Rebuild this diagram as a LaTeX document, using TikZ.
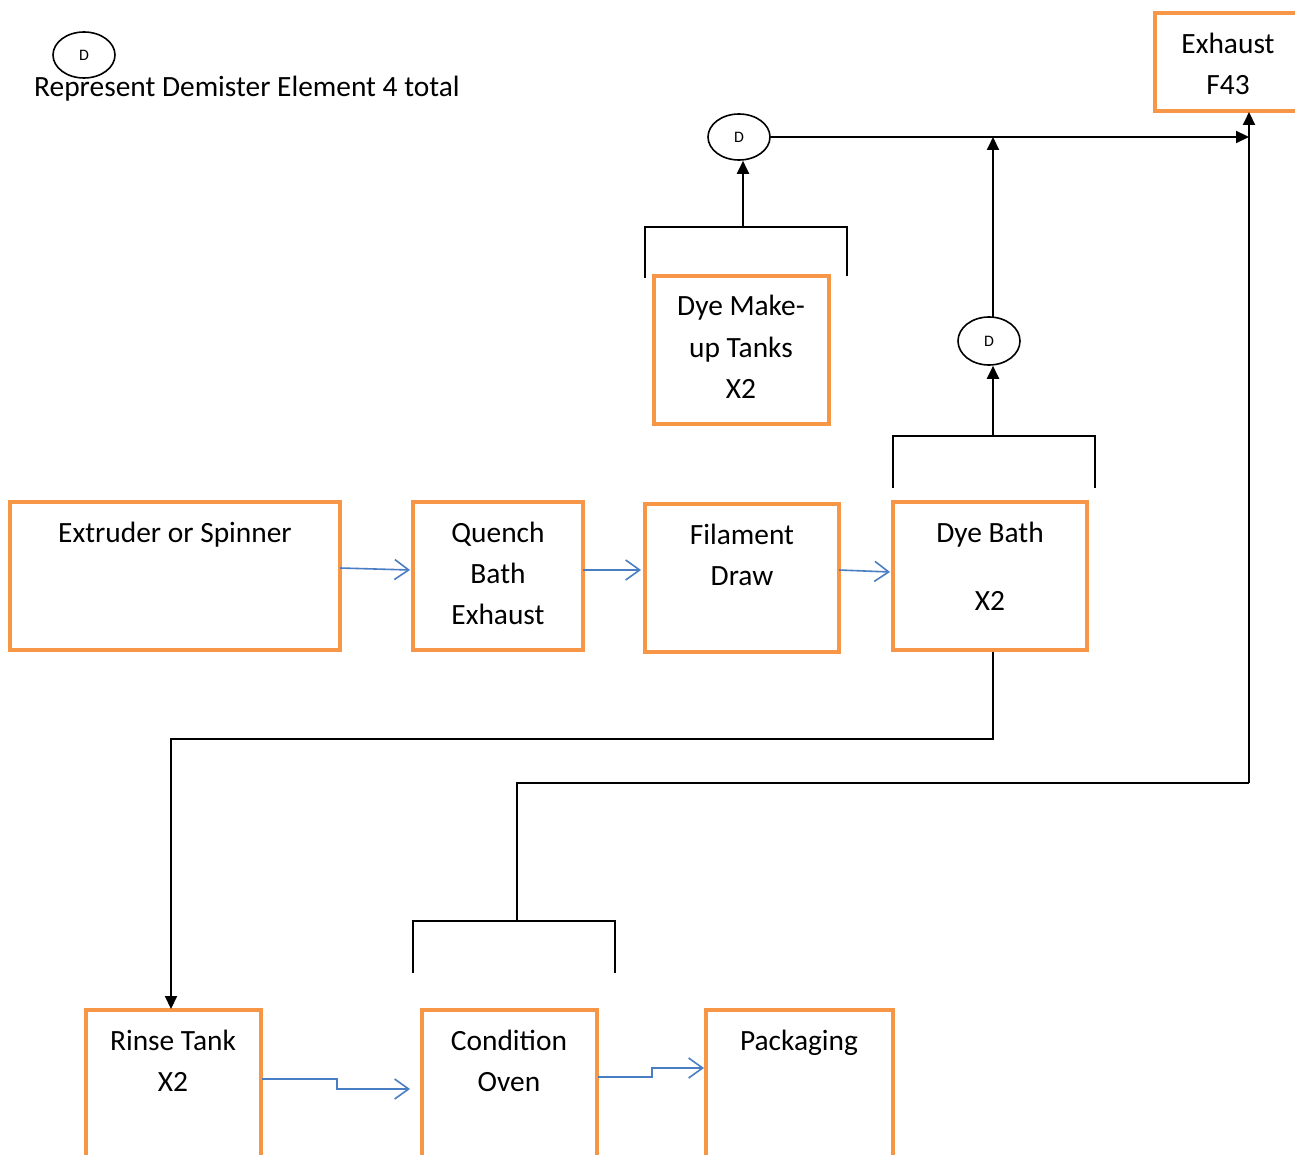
\documentclass[tikz,border=0pt]{standalone}
\usepackage{fontspec}
\setmainfont{Carlito}
\usetikzlibrary{shapes.geometric,arrows.meta}
\begin{document}
\begin{tikzpicture}[x=1pt,y=-1pt,
  box/.style={draw=boxorange,line width=4.5pt,inner sep=0pt},
  txt/.style={font=\fontsize{29.4}{41}\selectfont,anchor=base,inner sep=0pt},
  dem/.style={draw,ellipse,line width=1.6pt,minimum width=62pt,minimum height=46pt,inner sep=0pt,font=\fontsize{16}{18}\selectfont},
  blk/.style={line width=2pt},
  blkarr/.style={blk,-{Triangle[length=13pt,width=12pt]}},
  bluearr/.style={draw=flowblue,line width=1.6pt,-{Straight Barb[length=14pt,width=20pt,line width=1.6pt]}},
]
\definecolor{boxorange}{HTML}{F79646}
\definecolor{flowblue}{HTML}{4A7EC4}
\useasboundingbox (0,0) rectangle (1295,1155);
\fill[white] (0,0) rectangle (1295,1155);

% legend
\node[dem] (legD) at (84,55) {D};
\node[txt,anchor=base west] (legT) at (34,97) {Represent Demister Element 4 total};

% boxes
\node[box,minimum width=145pt,minimum height=98pt] (exh) at (1227.5,62) {};
\node[txt] (exh1) at (1228,54) {Exhaust};
\node[txt] (exh2) at (1228,95) {F43};

\node[box,minimum width=175pt,minimum height=148pt] (dmk) at (741.5,350) {};
\node[txt] (dmk1) at (741,316) {Dye Make-};
\node[txt] (dmk2) at (741,357) {up Tanks};
\node[txt] (dmk3) at (741,398) {X2};

\node[box,minimum width=330pt,minimum height=148pt] (ext) at (175,576) {};
\node[txt] (ext1) at (175,542) {Extruder or Spinner};

\node[box,minimum width=170pt,minimum height=148pt] (qb) at (498,576) {};
\node[txt] (qb1) at (498,542) {Quench};
\node[txt] (qb2) at (498,583) {Bath};
\node[txt] (qb3) at (498,624) {Exhaust};

\node[box,minimum width=194pt,minimum height=148pt] (fd) at (742,578) {};
\node[txt] (fd1) at (742,544) {Filament};
\node[txt] (fd2) at (742,585) {Draw};

\node[box,minimum width=194pt,minimum height=148pt] (db) at (990,576) {};
\node[txt] (db1) at (990,542) {Dye Bath};
\node[txt] (db2) at (990,610) {X2};

\node[box,minimum width=175pt,minimum height=170pt] (rt) at (173.5,1095) {};
\node[txt] (rt1) at (173,1050) {Rinse Tank};
\node[txt] (rt2) at (173,1091) {X2};

\node[box,minimum width=175pt,minimum height=170pt] (co) at (509.5,1095) {};
\node[txt] (co1) at (509,1050) {Condition};
\node[txt] (co2) at (509,1091) {Oven};

\node[box,minimum width=187pt,minimum height=170pt] (pk) at (799.5,1095) {};
\node[txt] (pk1) at (799,1050) {Packaging};

% demisters
\node[dem] (d1) at (739,137) {D};
\node[dem,minimum height=48pt] (d2) at (989,341) {D};

% coordinates
\coordinate (jx) at (1249,137);
\coordinate (exin) at (1249,112);
\coordinate (ret1) at (1249,783);
\coordinate (ret2) at (517,783);
\coordinate (ret3) at (517,921);
\coordinate (d2top) at (993,137);
\coordinate (d2bot) at (993,318);
\coordinate (br1stem) at (993,436);
\coordinate (br2stem) at (743,227);
\coordinate (dbout) at (993,652);
\coordinate (dbmid) at (993,739);
\coordinate (rtmid) at (171,739);
\coordinate (rtin) at (171,1009);

% black connectors
\draw[blkarr] (d1.east) -- (jx);
\draw[blkarr] (ret1) -- (exin);
\draw[blkarr] (d2bot) -- (d2top);
\draw[blkarr] (br1stem) -- (br1stem |- d2.south);
\draw[blkarr] (br2stem) -- (br2stem |- d1.south);
\draw[blk] (893,488) -- (893,436) -- (1095,436) -- (1095,488);
\draw[blk] (645,278) -- (645,227) -- (847,227) -- (847,276);
\draw[blkarr] (dbout) -- (dbmid) -- (rtmid) -- (rtin);
\draw[blk] (ret1) -- (ret2) -- (ret3);
\draw[blk] (413,973) -- (413,921) -- (615,921) -- (615,973);

% blue flow arrows
\coordinate (a1s) at (340,568); \coordinate (a1e) at (410,570);
\coordinate (a2s) at (583,570); \coordinate (a2e) at (641,570);
\coordinate (a3s) at (839,570); \coordinate (a3e) at (890,572);
\draw[bluearr] (a1s) -- (a1e);
\draw[bluearr] (a2s) -- (a2e);
\draw[bluearr] (a3s) -- (a3e);
\draw[bluearr] (262,1079) -- (337,1079) -- (337,1089) -- (410,1089);
\draw[bluearr] (598,1077) -- (652,1077) -- (652,1068) -- (704,1068);
\end{tikzpicture}
\end{document}
